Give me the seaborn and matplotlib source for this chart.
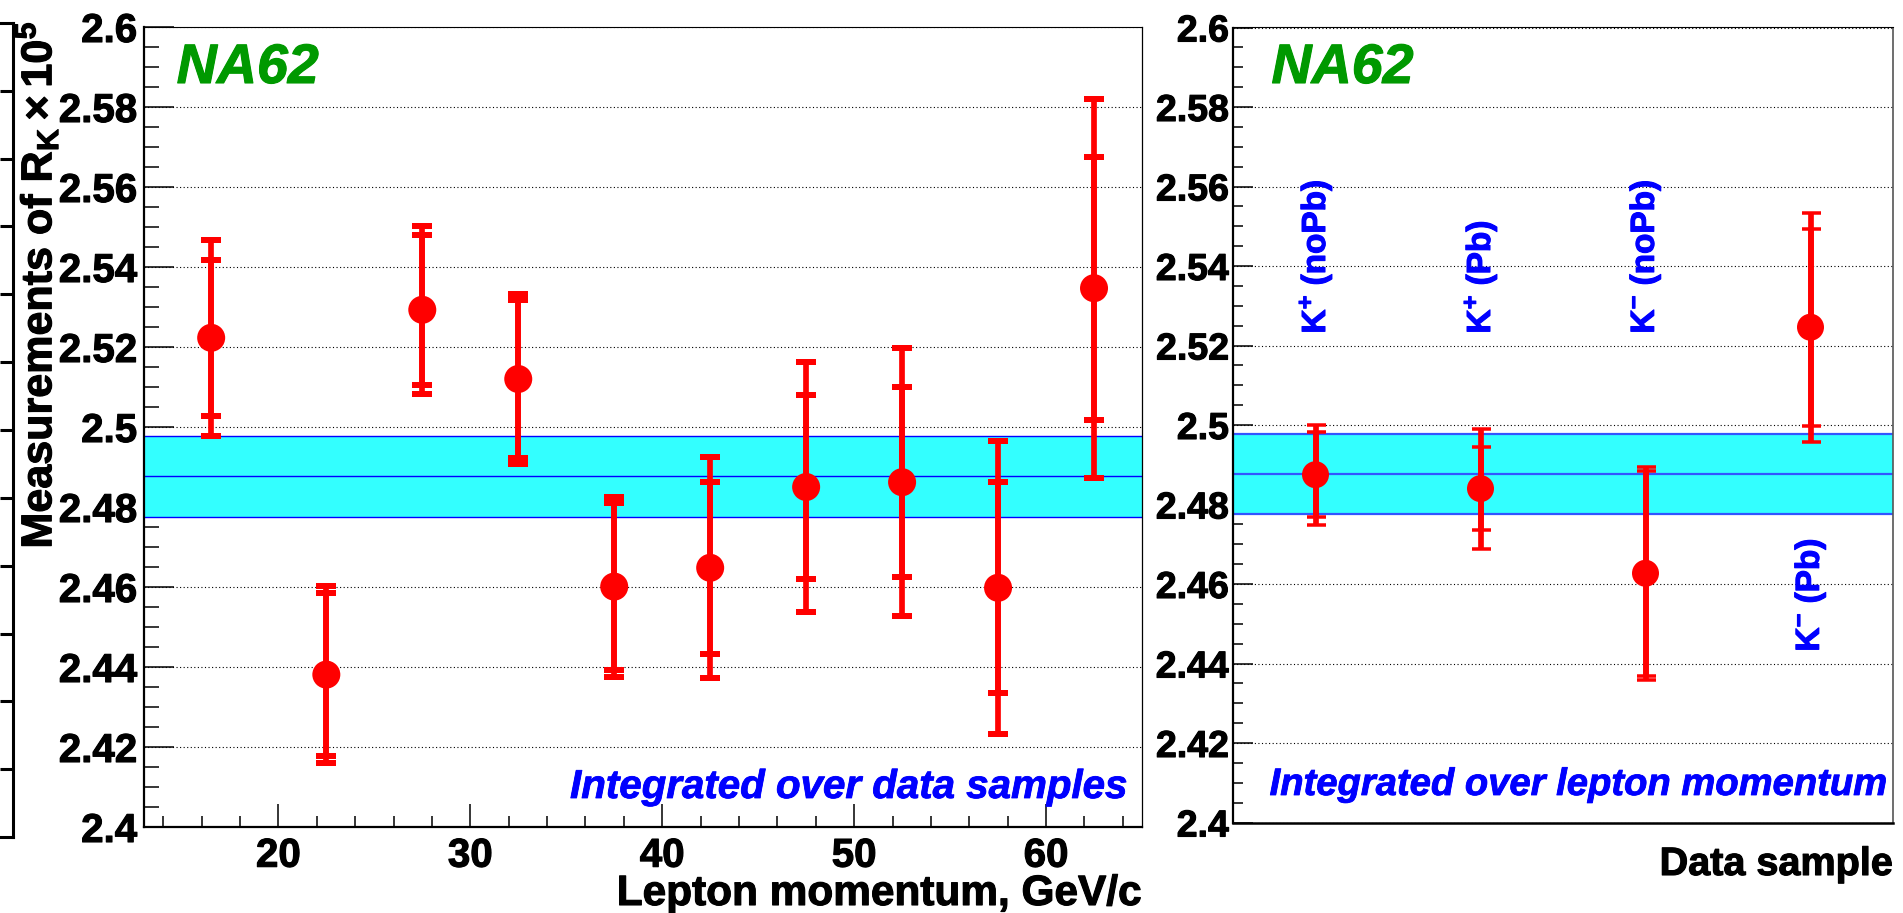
import numpy as np
import pandas as pd
import matplotlib
matplotlib.use("Agg")
import matplotlib.pyplot as plt
import matplotlib.patheffects as pe
import seaborn as sns
from matplotlib.ticker import MultipleLocator, FixedLocator, FuncFormatter, NullLocator

# ---------------- data ----------------
momentum_bins = [16.5, 22.5, 27.5, 32.5, 37.5, 42.5, 47.5, 52.5, 57.5, 62.5]
rk_momentum = [2.5223, 2.4381, 2.5293, 2.5120, 2.4601, 2.4648, 2.4850, 2.4862, 2.4598, 2.5347]
stat_momentum = [0.0195, 0.0203, 0.0188, 0.0198, 0.0208, 0.0215, 0.0230, 0.0237, 0.0264, 0.0329]
total_momentum = [0.0245, 0.0222, 0.0210, 0.0213, 0.0225, 0.0276, 0.0313, 0.0335, 0.0366, 0.0474]

sample_names = ["K$^{+}$ (noPb)", "K$^{+}$ (Pb)", "K$^{-}$ (noPb)", "K$^{-}$ (Pb)"]
rk_sample = [2.4875, 2.4840, 2.4627, 2.5246]
stat_sample = [0.0107, 0.0105, 0.0258, 0.0248]
total_sample = [0.0126, 0.0151, 0.0268, 0.0288]

rk_average = 2.4877
rk_average_err = 0.0101

y_ticks = [2.40, 2.42, 2.44, 2.46, 2.48, 2.50, 2.52, 2.54, 2.56, 2.58, 2.60]
x_ticks = [20, 30, 40, 50, 60]

df_mom = pd.DataFrame({"p": momentum_bins, "rk": rk_momentum,
                       "stat": stat_momentum, "tot": total_momentum})
df_smp = pd.DataFrame({"pos": np.arange(len(sample_names)) + 0.5, "name": sample_names,
                       "rk": rk_sample, "stat": stat_sample, "tot": total_sample})

# ---------------- style ----------------
sns.set_theme(style="white")
plt.rcParams.update({
    "font.family": ["Liberation Sans", "DejaVu Sans"],
    "font.weight": "bold",
    "mathtext.fontset": "custom",
    "mathtext.rm": "Liberation Sans:bold",
    "mathtext.it": "Liberation Sans:bold:italic",
    "mathtext.bf": "Liberation Sans:bold",
    "mathtext.sf": "Liberation Sans:bold",
    "mathtext.default": "rm",
    "text.color": "black",
    "axes.labelcolor": "black",
    "axes.edgecolor": "black",
    "xtick.color": "black",
    "ytick.color": "black",
})

W, H = 1903, 913
fig = plt.figure(figsize=(W / 100, H / 100), dpi=100)
fig.patch.set_facecolor("white")

RED = "#ff0000"
CYAN = "#33ffff"
GREEN = "#009900"
BLUE = "#0000ff"
px = 72 / 100.0  # points per pixel


def heavy(color, w=0.9):
    return [pe.withStroke(linewidth=w, foreground=color)]


def fmt(v, _):
    return f"{v:.2f}".rstrip("0").rstrip(".")


def draw_grid(ax):
    for v in y_ticks:
        ax.axhline(v, color="black", lw=0.8, ls=(0, (1, 2.2)), zorder=0.3)


def draw_band(ax, edge_color, edge_lw):
    ax.axhspan(rk_average - rk_average_err, rk_average + rk_average_err,
               facecolor=CYAN, edgecolor="none", zorder=1)
    for v in (rk_average - rk_average_err, rk_average, rk_average + rk_average_err):
        ax.axhline(v, color=edge_color, lw=edge_lw, zorder=1.2)


def thicken_ticklabels(ax):
    for lab in ax.get_xticklabels() + ax.get_yticklabels():
        lab.set_path_effects(heavy("black", 0.8))


# ---------------- stray frame on far left ----------------
ax0 = fig.add_axes([-0.05, (H - 837) / H, 0.05 + 13 / W, 814 / H])
ax0.set_facecolor("none")
ax0.set_xlim(0, 1)
ax0.set_ylim(0, 12)
ax0.yaxis.set_major_locator(FixedLocator(list(range(1, 12))))
ax0.xaxis.set_major_locator(NullLocator())
ax0.tick_params(axis="y", which="both", left=False, right=True, labelleft=False,
                direction="in", length=13 * px, width=2.2)
ax0.spines["left"].set_visible(False)
for s in ("top", "bottom", "right"):
    ax0.spines[s].set_linewidth(2.2)

# ---------------- left panel ----------------
ax1 = fig.add_axes([144 / W, (H - 827) / H, 998 / W, 800 / H])
ax1.set_facecolor("white")
ax1.set_xlim(13, 65)
ax1.set_ylim(2.4, 2.6)
draw_grid(ax1)
draw_band(ax1, BLUE, 1.0)

ax1.errorbar(df_mom["p"], df_mom["rk"], yerr=df_mom["tot"], fmt="none", ecolor=RED,
             elinewidth=5.7 * px, capsize=10 * px, capthick=6 * px, zorder=3)
ax1.errorbar(df_mom["p"], df_mom["rk"], yerr=df_mom["stat"], fmt="none", ecolor=RED,
             elinewidth=5.7 * px, capsize=10 * px, capthick=6 * px, zorder=3)
sns.scatterplot(data=df_mom, x="p", y="rk", ax=ax1, color=RED, s=(28 * px) ** 2,
                edgecolor="none", linewidth=0, zorder=4, legend=False)
ax1.set_xlabel("")
ax1.set_ylabel("")

ax1.yaxis.set_major_locator(FixedLocator(y_ticks))
ax1.yaxis.set_minor_locator(MultipleLocator(0.005))
ax1.yaxis.set_major_formatter(FuncFormatter(fmt))
ax1.xaxis.set_major_locator(FixedLocator(x_ticks))
ax1.xaxis.set_minor_locator(MultipleLocator(2))
ax1.tick_params(axis="y", which="major", direction="in", length=30 * px, width=1.1,
                left=True, right=False, labelsize=29, pad=5)
ax1.tick_params(axis="y", which="minor", direction="in", length=15 * px, width=1.1,
                left=True, right=False)
ax1.tick_params(axis="x", which="major", direction="in", length=23 * px, width=1.1,
                bottom=True, top=False, labelsize=29, pad=7)
ax1.tick_params(axis="x", which="minor", direction="in", length=11 * px, width=1.1,
                bottom=True, top=False)
ax1.spines["left"].set_linewidth(1.6)
ax1.spines["bottom"].set_linewidth(1.6)
ax1.spines["top"].set_linewidth(0.8)
ax1.spines["right"].set_linewidth(0.9)
thicken_ticklabels(ax1)

ax1.text((176.7 - 144) / 998, (827 - 83) / 800, "NA62", transform=ax1.transAxes,
         color=GREEN, fontsize=40, fontstyle="italic", fontweight="bold",
         ha="left", va="baseline", zorder=5, path_effects=heavy(GREEN, 0.8))
ax1.text((1126.7 - 144) / 998, (827 - 798) / 800, "Integrated over data samples",
         transform=ax1.transAxes, color=BLUE, fontsize=29, fontstyle="italic",
         fontweight="bold", ha="right", va="baseline", zorder=5,
         path_effects=heavy(BLUE, 0.6))
ax1.text(1.0, (827 - 905) / 800, "Lepton momentum, GeV/c", transform=ax1.transAxes,
         fontsize=30.5, fontweight="bold", ha="right", va="baseline",
         path_effects=heavy("black", 0.8))

fig.text(37 / W, 1 - 22 / H, r"Measurements of R$_{K}\times 10^{5}$", rotation=90,
         ha="center", va="top", fontsize=31, fontweight="bold",
         path_effects=heavy("black", 0.8))

# ---------------- right panel ----------------
ax2 = fig.add_axes([1233 / W, (H - 822.5) / H, 660 / W, 795 / H])
ax2.set_facecolor("white")
ax2.set_xlim(0, len(sample_names))
ax2.set_ylim(2.4, 2.6)
draw_grid(ax2)
draw_band(ax2, "#3355ff", 1.6)

ax2.errorbar(df_smp["pos"], df_smp["rk"], yerr=df_smp["tot"], fmt="none", ecolor=RED,
             elinewidth=5.7 * px, capsize=9.5 * px, capthick=3.5 * px, zorder=3)
ax2.errorbar(df_smp["pos"], df_smp["rk"], yerr=df_smp["stat"], fmt="none", ecolor=RED,
             elinewidth=5.7 * px, capsize=9.5 * px, capthick=3.5 * px, zorder=3)
sns.scatterplot(data=df_smp, x="pos", y="rk", ax=ax2, color=RED, s=(27 * px) ** 2,
                edgecolor="none", linewidth=0, zorder=4, legend=False)
ax2.set_xlabel("")
ax2.set_ylabel("")

ax2.yaxis.set_major_locator(FixedLocator(y_ticks))
ax2.yaxis.set_minor_locator(MultipleLocator(0.005))
ax2.yaxis.set_major_formatter(FuncFormatter(fmt))
ax2.xaxis.set_major_locator(NullLocator())
ax2.tick_params(axis="y", which="major", direction="in", length=20 * px, width=1.1,
                left=True, right=False, labelsize=27, pad=3)
ax2.tick_params(axis="y", which="minor", direction="in", length=10 * px, width=1.1,
                left=True, right=False)
ax2.spines["left"].set_linewidth(1.6)
ax2.spines["bottom"].set_linewidth(1.8)
ax2.spines["top"].set_linewidth(0.8)
ax2.spines["right"].set_linewidth(1.2)
ax2.spines["right"].set_color("#555555")
thicken_ticklabels(ax2)

label_bottom = [2.523, 2.523, 2.523, 2.443]
for pos, name, yb in zip(df_smp["pos"], df_smp["name"], label_bottom):
    ax2.text(pos, yb, name, rotation=90, ha="center", va="bottom", color=BLUE,
             fontsize=24, fontweight="bold", zorder=5, path_effects=heavy(BLUE, 0.8))

ax2.text((1271.5 - 1233) / 660, (822.5 - 83) / 795, "NA62", transform=ax2.transAxes,
         color=GREEN, fontsize=40, fontstyle="italic", fontweight="bold",
         ha="left", va="baseline", zorder=5, path_effects=heavy(GREEN, 0.8))
ax2.text((1888 - 1233) / 660, (822.5 - 795) / 795, "Integrated over lepton momentum",
         transform=ax2.transAxes, color=BLUE, fontsize=27.5, fontstyle="italic",
         fontweight="bold", ha="right", va="baseline", zorder=5,
         path_effects=heavy(BLUE, 0.6))
ax2.text(1.0, (822.5 - 875) / 795, "Data sample", transform=ax2.transAxes,
         fontsize=28.5, fontweight="bold", ha="right", va="baseline",
         path_effects=heavy("black", 0.8))

fig.savefig("out.png", dpi=100, facecolor="white")
